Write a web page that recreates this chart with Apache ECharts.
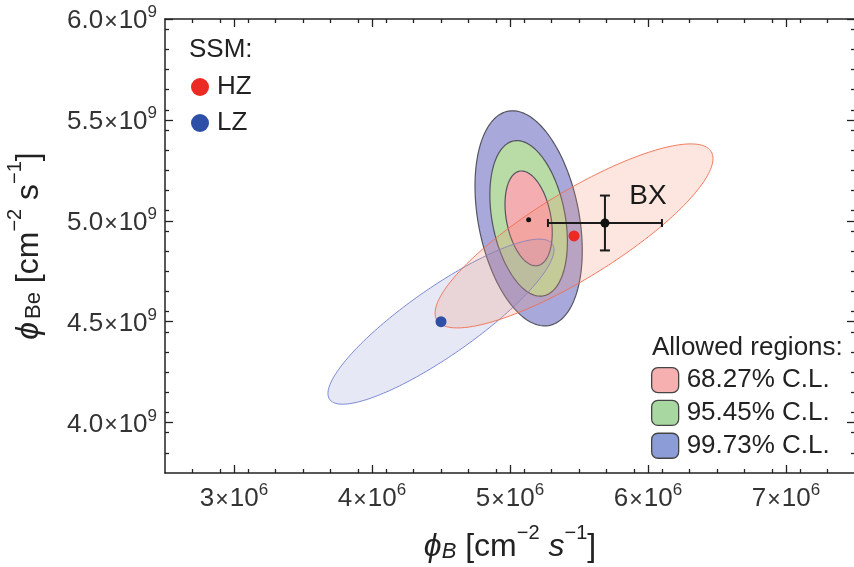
<!DOCTYPE html>
<html><head><meta charset="utf-8">
<script src="https://cdn.jsdelivr.net/npm/echarts@6/dist/echarts.min.js"></script>
<style>html,body{margin:0;padding:0;background:#fff}#c{width:854px;height:567px}</style>
</head><body><div id="c"></div>
<script>
// ---- axes ----
const xRange = [2.5e6, 7.5e6];
const yRange = [3.75e9, 6.0e9];
const xMajorTicks = [3e6, 4e6, 5e6, 6e6, 7e6];
const xTickMantissa = ['3', '4', '5', '6', '7'];
const xTickExp = '6';
const yMajorTicks = [4.0e9, 4.5e9, 5.0e9, 5.5e9, 6.0e9];
const yTickMantissa = ['4.0', '4.5', '5.0', '5.5', '6.0'];
const yTickExp = '9';
const xMinorStep = 0.2e6;
const yMinorStep = 0.1e9;

// ---- SSM predictions (points + uncertainty ellipses) ----
const ssmNames = ['HZ', 'LZ'];
const ssmColors = ['#ec2a24', '#2d4fa5'];
const ssmB = [5.464e6, 4.50e6];
const ssmBe = [4.925e9, 4.50e9];
const ssmHalfB = [1.007e6, 0.819e6];
const ssmHalfBe = [0.456e9, 0.409e9];
const ssmRho = [0.84, 0.87];

// ---- allowed regions (fit) ----
const fitBest = [5.135e6, 5.005e9];
const fitCenter = [5.135e6, 5.012e9];
const fitSigmaB = 0.113e6;
const fitSigmaBe = 0.155e9;
const fitRho = -0.3;
const clNames = ['68.27% C.L.', '95.45% C.L.', '99.73% C.L.'];
const clRadius = [1.515, 2.486, 3.439];
const clFill = ['#f4adb0', '#b9dca6', '#a8a9da'];
const clLegend = ['#f6b0b0', '#a9d7a1', '#8c9cd6'];

// ---- Borexino measurement ----
const bxB = [5.688e6];
const bxBErr = [0.413e6];
const bxBe = [4.989e9];
const bxBeErr = [0.136e9];

const FONT = "'Liberation Sans', Arial, 'DejaVu Sans', sans-serif";

function minorList(range, step, majors) {
  const out = [];
  const n = Math.round((range[1] - range[0]) / step);
  for (let i = 1; i < n; i++) {
    const v = range[0] + i * step;
    if (!majors.some(m => Math.abs(m - v) < step * 0.01)) out.push(v);
  }
  return out;
}
const xMinor = minorList(xRange, xMinorStep, xMajorTicks);
const yMinor = minorList(yRange, yMinorStep, yMajorTicks);

function nearestIdx(arr, v) {
  let b = 0; for (let i = 1; i < arr.length; i++) if (Math.abs(arr[i] - v) < Math.abs(arr[b] - v)) b = i; return b;
}

const tickRich = {
  m: { fontSize: 26, fontFamily: FONT, color: '#333', lineHeight: 30, verticalAlign: 'bottom' },
  x: { fontSize: 23, fontFamily: FONT, color: '#333', lineHeight: 30, verticalAlign: 'bottom', padding: [0, 1, 0, 1] },
  s: { fontSize: 17, fontFamily: FONT, color: '#333', lineHeight: 17, verticalAlign: 'top' }
};
const nameRich = {
  i: { fontSize: 32, fontFamily: FONT, fontStyle: 'italic', color: '#222', lineHeight: 40, verticalAlign: 'bottom' },
  n: { fontSize: 32, fontFamily: FONT, color: '#222', lineHeight: 40, verticalAlign: 'bottom' },
  sb: { fontSize: 22, fontFamily: FONT, fontStyle: 'italic', color: '#222', lineHeight: 22, verticalAlign: 'bottom' },
  sbn: { fontSize: 22, fontFamily: FONT, color: '#222', lineHeight: 22, verticalAlign: 'bottom', padding: [0, 0, 0, 3] },
  sp: { fontSize: 20, fontFamily: FONT, color: '#222', lineHeight: 20, verticalAlign: 'top' }
};

const lineCol = '#222';
function mkAxis(dim, pos, range, ticks, len, withLine, withLabel) {
  const a = {
    type: 'value', position: pos, min: range[0], max: range[1],
    splitLine: { show: false },
    axisLine: { show: withLine, onZero: false, lineStyle: { color: lineCol, width: 1.5 } },
    axisTick: { show: true, inside: true, length: len, customValues: ticks, lineStyle: { color: lineCol, width: 1.3 } },
    axisLabel: { show: false }
  };
  if (withLabel) {
    if (dim === 'x') {
      a.axisLabel = { show: true, customValues: xMajorTicks, margin: 9,
        formatter: v => '{m|' + xTickMantissa[nearestIdx(xMajorTicks, v)] + '}{x|×}{m|10}{s|' + xTickExp + '}',
        rich: tickRich };
    } else {
      a.axisLabel = { show: true, customValues: yMajorTicks, margin: 8,
        formatter: v => '{m|' + yTickMantissa[nearestIdx(yMajorTicks, v)] + '}{x|×}{m|10}{s|' + yTickExp + '}',
        rich: tickRich };
    }
  }
  return a;
}

const xAxes = [
  mkAxis('x', 'bottom', xRange, xMajorTicks, 8, true, true),
  mkAxis('x', 'bottom', xRange, xMinor, 4, false, false),
  mkAxis('x', 'top', xRange, xMajorTicks, 8, true, false),
  mkAxis('x', 'top', xRange, xMinor, 4, false, false)
];
xAxes[0].name = '{i|ϕ}{sb|B}{n| [cm}{sp|−2}{i| s}{sp|−1}{n|]}';
xAxes[0].nameLocation = 'middle';
xAxes[0].nameGap = 50;
xAxes[0].nameTextStyle = { rich: nameRich };

const yAxes = [
  mkAxis('y', 'left', yRange, yMajorTicks, 8, true, true),
  mkAxis('y', 'left', yRange, yMinor, 4, false, false),
  mkAxis('y', 'right', yRange, yMajorTicks, 8, true, false),
  mkAxis('y', 'right', yRange, yMinor, 4, false, false)
];
yAxes[0].name = '{i|ϕ}{sbn|Be}{n| [cm}{sp|−2}{n| s}{sp|−1}{n|]}';
yAxes[0].nameLocation = 'middle';
yAxes[0].nameRotate = 90;
yAxes[0].nameGap = 120;
yAxes[0].nameTextStyle = { rich: nameRich };

function ellipsePts(api, cx, cy, hx, hy, rho) {
  const pts = []; const N = 200; const s = Math.sqrt(1 - rho * rho);
  for (let i = 0; i < N; i++) {
    const t = 2 * Math.PI * i / N;
    pts.push(api.coord([cx + hx * Math.cos(t), cy + hy * (rho * Math.cos(t) + s * Math.sin(t))]));
  }
  return pts;
}
function ellipseSeries(name, cx, cy, hx, hy, rho, fill, stroke, lw, z) {
  return {
    type: 'custom', name: name, z: z, silent: true, animation: false,
    xAxisIndex: 0, yAxisIndex: 0,
    data: [[cx, cy, hx, hy, rho]],
    encode: { x: 0, y: 1 },
    itemStyle: { color: fill },
    renderItem: (params, api) => ({
      type: 'polygon',
      shape: { points: ellipsePts(api, api.value(0), api.value(1), api.value(2), api.value(3), api.value(4)) },
      style: { fill: fill, stroke: stroke, lineWidth: lw }
    })
  };
}

const series = [];
for (let k = clNames.length - 1; k >= 0; k--) {
  series.push(ellipseSeries(clNames[k], fitCenter[0], fitCenter[1],
    clRadius[k] * fitSigmaB, clRadius[k] * fitSigmaBe, fitRho, clFill[k], '#55555f', 1.2, 1));
}
series.push(ellipseSeries('LZ ellipse', ssmB[1], ssmBe[1], ssmHalfB[1], ssmHalfBe[1], ssmRho[1],
  'rgba(120,130,200,0.18)', 'rgba(110,125,205,0.9)', 1, 2));
series.push(ellipseSeries('HZ ellipse', ssmB[0], ssmBe[0], ssmHalfB[0], ssmHalfBe[0], ssmRho[0],
  'rgba(240,140,110,0.22)', 'rgba(240,110,80,0.9)', 1, 3));

series.push({
  type: 'custom', name: 'BX err', z: 5, silent: true,
  data: bxB.map((b, i) => [b, bxBe[i], bxBErr[i], bxBeErr[i]]),
  encode: { x: 0, y: 1 },
  renderItem: (params, api) => {
    const x = api.value(0), y = api.value(1), ex = api.value(2), ey = api.value(3);
    const l = api.coord([x - ex, y]), r = api.coord([x + ex, y]);
    const t = api.coord([x, y + ey]), b = api.coord([x, y - ey]);
    const st = { stroke: '#1a1a1a', lineWidth: 2 };
    const cw = 5, ch = 4;
    return { type: 'group', children: [
      { type: 'line', shape: { x1: l[0], y1: l[1], x2: r[0], y2: r[1] }, style: st },
      { type: 'line', shape: { x1: t[0], y1: t[1], x2: b[0], y2: b[1] }, style: st },
      { type: 'line', shape: { x1: l[0], y1: l[1] - ch, x2: l[0], y2: l[1] + ch }, style: st },
      { type: 'line', shape: { x1: r[0], y1: r[1] - ch, x2: r[0], y2: r[1] + ch }, style: st },
      { type: 'line', shape: { x1: t[0] - cw, y1: t[1], x2: t[0] + cw, y2: t[1] }, style: st },
      { type: 'line', shape: { x1: b[0] - cw, y1: b[1], x2: b[0] + cw, y2: b[1] }, style: st }
    ] };
  }
});
series.push({
  type: 'scatter', name: 'BX', z: 6, silent: true, symbolSize: 9,
  itemStyle: { color: '#111', opacity: 1 },
  data: bxB.map((b, i) => [b, bxBe[i]]),
  label: { show: true, formatter: 'BX', position: 'inside', offset: [43, -27], fontSize: 28, fontFamily: FONT, color: '#1a1a1a' }
});
series.push({
  type: 'scatter', name: 'best fit', z: 6, silent: true, symbolSize: 5,
  itemStyle: { color: '#111', opacity: 1 }, data: [fitBest]
});
ssmNames.forEach((n, i) => {
  series.push({
    type: 'scatter', name: n, z: 7, silent: true, symbolSize: 11,
    itemStyle: { color: ssmColors[i], opacity: 1 }, data: [[ssmB[i], ssmBe[i]]]
  });
});

const chart = echarts.init(document.getElementById('c'), null, { renderer: 'canvas' });
chart.setOption({
  animation: false,
  backgroundColor: '#fff',
  grid: { left: 165, right: -1, top: 19, bottom: 94, containLabel: false, outerBoundsMode: 'none' },
  xAxis: xAxes,
  yAxis: yAxes,
  title: [
    { text: 'SSM:', left: 189, top: 37, textStyle: { fontSize: 26, fontWeight: 'normal', fontFamily: FONT, color: '#222' }, padding: 0 },
    { text: 'Allowed regions:', left: 652, top: 335, textStyle: { fontSize: 26, fontWeight: 'normal', fontFamily: FONT, color: '#222' }, padding: 0 }
  ],
  legend: [
    { data: ssmNames.map((n, i) => ({ name: n, icon: 'circle', itemStyle: { color: ssmColors[i], opacity: 1 } })),
      orient: 'vertical', left: 191, top: 74, itemWidth: 18, itemHeight: 18, itemGap: 10, padding: 0,
      selectedMode: false,
      textStyle: { fontSize: 26, lineHeight: 22, fontFamily: FONT, color: '#222', padding: [0, 0, 0, 3] } },
    { data: clNames.map((n, i) => ({ name: n, icon: 'roundRect', itemStyle: { color: clLegend[i], borderColor: '#444', borderWidth: 1.3 } })),
      orient: 'vertical', left: 651, top: 367, itemWidth: 27, itemHeight: 25, itemGap: 6.5, padding: 0,
      selectedMode: false,
      textStyle: { fontSize: 26, lineHeight: 25, fontFamily: FONT, color: '#222', padding: [0, 0, 0, 3] } }
  ],
  series: series
});
</script></body></html>
